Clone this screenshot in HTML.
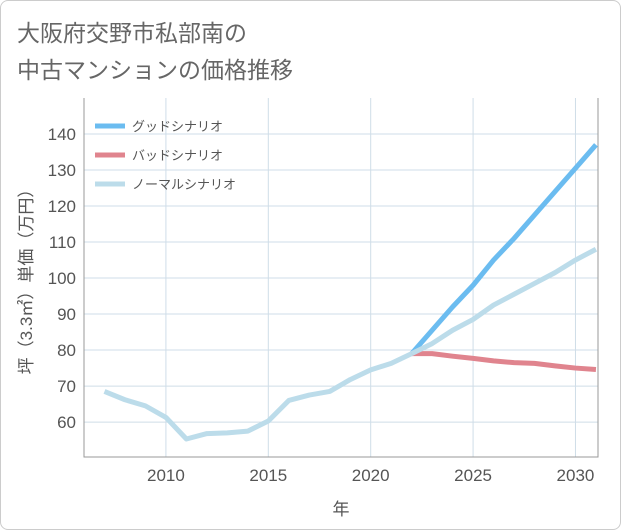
<!DOCTYPE html>
<html><head><meta charset="utf-8">
<style>
body{margin:0;background:#fff;}
#wrap{position:relative;width:619px;height:528px;border:1px solid #ccc;border-radius:8px;overflow:hidden;font-family:"Liberation Sans","Noto Sans CJK JP",sans-serif;}
#title{position:absolute;left:16px;top:14px;font-size:23px;line-height:37px;color:#666;}
</style></head><body>
<div id="wrap">
<div id="title">大阪府交野市私部南の<br>中古マンションの価格推移</div>
<svg id="svg" width="621" height="530" style="position:absolute;left:-1px;top:-1px"></svg>
</div>
<script>
const histYears=[2007,2008,2009,2010,2011,2012,2013,2014,2015,2016,2017,2018,2019,2020,2021,2022];
const histVals=[68.5,66.2,64.5,61.3,55.3,56.8,57,57.5,60.3,66,67.5,68.5,71.8,74.5,76.3,79];
const projYears=[2022,2023,2024,2025,2026,2027,2028,2029,2030,2031];
const goodVals=[79,85.5,92,98,105,111,117.5,124,130.5,137];
const normalVals=[79,81.8,85.5,88.5,92.5,95.5,98.5,101.5,105,108];
const badVals=[79,79,78.3,77.7,77,76.5,76.3,75.6,75,74.6];
const yTicks=[60,70,80,90,100,110,120,130,140];
const xTicks=[2010,2015,2020,2025,2030];
const seriesNames=["グッドシナリオ","バッドシナリオ","ノーマルシナリオ"];
const seriesColors=["#6bbcf0","#e0848e","#bcdcea"];

const L=84,R=598,T=98,B=457;
const x=v=>L+(v-2006)*(R-L)/25.1;
const y=v=>B-(v-50.3)*(B-T)/99.7;
const svg=document.getElementById('svg');
const NS="http://www.w3.org/2000/svg";
function mk(t,a,p){const e=document.createElementNS(NS,t);for(const k in a)e.setAttribute(k,a[k]);(p||svg).appendChild(e);return e;}
const defs=mk('defs',{});const cp=mk('clipPath',{id:'c'},defs);mk('rect',{x:L,y:T,width:R-L,height:B-T},cp);
yTicks.forEach(t=>{
 const g=mk('line',{x1:L,x2:R,y1:y(t),y2:y(t),stroke:'#cfdde8','stroke-width':1});
 
 const tx=mk('text',{x:L-8,y:y(t)+6,'text-anchor':'end','font-size':17,fill:'#555'});tx.textContent=t;
 
});
xTicks.forEach(t=>{
 const g=mk('line',{x1:x(t),x2:x(t),y1:T,y2:B,stroke:'#cfdde8','stroke-width':1});
 
 const tx=mk('text',{x:x(t),y:B+24,'text-anchor':'middle','font-size':17,fill:'#555'});tx.textContent=t;
 
});
const ax=mk('path',{d:`M${L},${T}V${B}H${R}V${T}`,fill:'none',stroke:'#999','stroke-width':1});

function line(xs,vs,c,name){
 const p=mk('polyline',{points:xs.map((a,i)=>x(a)+','+y(vs[i])).join(' '),fill:'none',stroke:c,'stroke-width':5,'stroke-linejoin':'round','clip-path':'url(#c)'});
 
}
line(projYears,badVals,seriesColors[1],'bad-scenario-line');
line(projYears,goodVals,seriesColors[0],'good-scenario-line');
line(projYears,normalVals,seriesColors[2],'normal-scenario-line');
line(histYears,histVals,seriesColors[2],'historical-line');
seriesNames.forEach((n,i)=>{
 const ly=126+i*29;
 const l=mk('line',{x1:95,x2:125,y1:ly,y2:ly,stroke:seriesColors[i],'stroke-width':5});
 
 const t=mk('text',{x:132,y:ly+5,'font-size':13,fill:'#555'});t.textContent=n;
 
});
const xt=mk('text',{x:(L+R)/2,y:515,'text-anchor':'middle','font-size':17,fill:'#555'});xt.textContent='年';

const yt=mk('text',{x:0,y:0,'text-anchor':'middle','font-size':17,fill:'#555',transform:`translate(32,${(T+B)/2}) rotate(-90)`});yt.textContent='坪（3.3㎡）単価（万円）';

</script>
</body></html>
